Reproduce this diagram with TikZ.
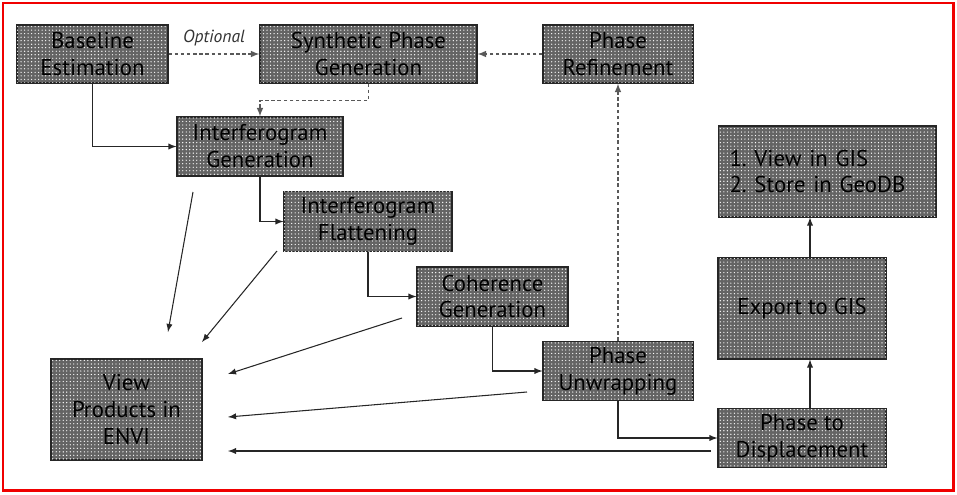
\documentclass[tikz,border=0pt]{standalone}
\usepackage{fontspec}
\setmainfont{PT Sans}
\usepackage{tikz}
\usetikzlibrary{arrows,patterns.meta}
\definecolor{boxgray}{RGB}{100,100,100}
\definecolor{framered}{RGB}{240,0,0}

\begin{document}
\begin{tikzpicture}[
  x=0.02cm, y=-0.02cm,
  box/.style={draw=black!85, line width=0.6pt, fill=boxgray, rectangle, align=center, font=\fontsize{13}{15.3}\selectfont, text=black,
    postaction={pattern={Dots[distance=2pt,radius=0.38pt]}, pattern color=white}},
  arrow/.style={->, >=latex, line width=0.6pt, black!85},
  dasharrow/.style={->, >=latex, line width=0.7pt, black!65, dash pattern=on 2pt off 1.5pt}
]
\useasboundingbox (0,0) rectangle (957,494);
% Draw outer frame
\draw[framered, line width=1.7pt] (3,3) rectangle (953,490);

% Draw process boxes
\node[box, minimum width=3.02cm, minimum height=1.16cm] (base) at (92.5,54) {Baseline\\Estimation};
\node[box, minimum width=4.34cm, minimum height=1.16cm] (synth) at (368.5,54) {Synthetic Phase\\Generation};
\node[box, minimum width=3.00cm, minimum height=1.16cm] (refine) at (618,54) {Phase\\Refinement};
\node[box, minimum width=3.32cm, minimum height=1.18cm] (igen) at (260,146.5) {Interferogram\\Generation};
\node[box, minimum width=3.36cm, minimum height=1.18cm] (iflat) at (368,221.5) {Interferogram\\Flattening};
\node[box, minimum width=3.02cm, minimum height=1.18cm] (coh) at (492.5,296.5) {Coherence\\Generation};
\node[box, minimum width=3.00cm, minimum height=1.16cm] (unwrap) at (618,371) {Phase\\Unwrapping};
\node[box, minimum width=3.36cm, minimum height=1.16cm] (p2d) at (802,438) {Phase to\\Displacement};
\node[box, minimum width=3.36cm, minimum height=2.02cm] (export) at (802,308.5) {Export to GIS};
\node[box, minimum width=4.36cm, minimum height=1.82cm, align=left, text width=3.9cm] (gis) at (827,171.5) {1.\ View in GIS\\2.\ Store in GeoDB};
\node[box, minimum width=3.02cm, minimum height=2.02cm] (envi) at (126.5,409.5) {View\\Products in\\ENVI};

% Draw optional (dashed) flow
\draw[dasharrow] (base.east) -- node[above, font=\fontsize{10}{12}\selectfont\itshape, text=black!80, yshift=1pt] (opt) {Optional} (synth.west);
\draw[dasharrow] (refine.west) -- (synth.east);
\draw[dasharrow] (synth.south) -- ++(0,17) -| (igen.north);
\draw[dasharrow] (unwrap.north) -- (refine.south);

% Draw main processing chain
\draw[arrow] (base.south) |- (igen.west);
\draw[arrow] (igen.south) |- (iflat.west);
\draw[arrow] (iflat.south) |- (coh.west);
\draw[arrow] (coh.south) |- (unwrap.west);
\draw[arrow] (unwrap.south) |- (p2d.west);
\draw[arrow] ([xshift=0.16cm]p2d.north) -- ([xshift=0.16cm]export.south);
\draw[arrow] ([xshift=0.16cm]export.north) -- ([xshift=0.16cm]export.north |- gis.south);

% Draw products sent to ENVI
\coordinate (s1) at (193,192);  \coordinate (t1) at (168,332);
\coordinate (s2) at (277,251);  \coordinate (t2) at (202,342);
\coordinate (s3) at (402,318);  \coordinate (t3) at (228,374);
\coordinate (s4) at (527,392);  \coordinate (t4) at (228,417);
\coordinate (s5) at (711,451);  \coordinate (t5) at (228,451);
\foreach \i in {1,...,5}
  \draw[arrow] (s\i) -- (t\i);

\end{tikzpicture}
\end{document}
